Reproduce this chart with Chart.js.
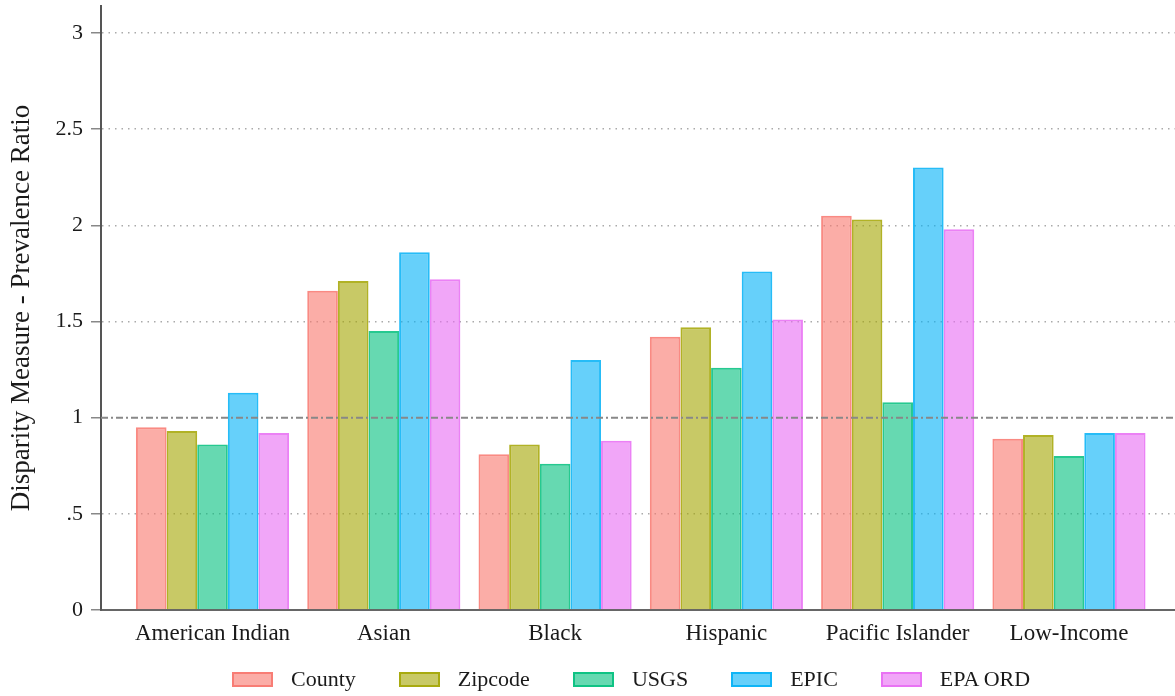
<!DOCTYPE html>
<html lang="en">
<head>
    <meta charset="UTF-8">
    <title>Disparity Measure - Prevalence Ratio</title>
    <script src="https://cdn.jsdelivr.net/npm/chart.js"></script>
    <style>
        body { margin: 0; background: #fff; overflow: hidden; font-family: "Liberation Serif", serif; }
        #wrap { position: relative; width: 1175px; height: 696px; }
        #legend { position: absolute; left: 232px; top: 666px; display: flex; align-items: center; color: #1a1a1a; font-size: 22px; }
        #legend .item { display: flex; align-items: center; margin-right: 43px; }
        #legend .box { width: 37px; height: 11px; border: 2px solid; margin-right: 18px; }
    </style>
</head>
<body>
<div id="wrap">
    <canvas id="chart" width="1175" height="696"></canvas>
    <div id="legend"></div>
</div>
<script>
    const groups = ["American Indian", "Asian", "Black", "Hispanic", "Pacific Islander", "Low-Income"];
    const seriesNames = ["County", "Zipcode", "USGS", "EPIC", "EPA ORD"];
    const county  = [0.95, 1.66, 0.81, 1.42, 2.05, 0.89];
    const zipcode = [0.93, 1.71, 0.86, 1.47, 2.03, 0.91];
    const usgs    = [0.86, 1.45, 0.76, 1.26, 1.08, 0.80];
    const epic    = [1.13, 1.86, 1.30, 1.76, 2.30, 0.92];
    const epaOrd  = [0.92, 1.72, 0.88, 1.51, 1.98, 0.92];
    const yTicks = [0, 0.5, 1, 1.5, 2, 2.5, 3];
    const yTickLabels = ["0", ".5", "1", "1.5", "2", "2.5", "3"];
    const refValue = 1;

    const rgb = ["248,118,109", "163,165,0", "0,191,125", "0,176,246", "231,107,243"];
    const seriesValues = [county, zipcode, usgs, epic, epaOrd];

    const datasets = seriesNames.map((name, k) => ({
        label: name,
        data: seriesValues[k].map((v, i) => ({ x: i, y: v })),
        backgroundColor: "rgba(" + rgb[k] + ",0.6)",
        borderColor: "rgba(" + rgb[k] + ",0.85)",
        borderWidth: 2,
        categoryPercentage: 0.894,
        barPercentage: 1
    }));

    // dash-dot line at 1, drawn over the bars
    const refLine = {
        id: "refLine",
        afterDatasetsDraw(chart) {
            const { ctx, chartArea, scales } = chart;
            const y = scales.y.getPixelForValue(refValue);
            ctx.save();
            ctx.strokeStyle = "#888";
            ctx.lineWidth = 2;
            ctx.setLineDash([7, 3, 2, 3]);
            ctx.beginPath();
            ctx.moveTo(chartArea.left, y);
            ctx.lineTo(chartArea.right, y);
            ctx.stroke();
            ctx.restore();
        }
    };

    new Chart(document.getElementById("chart"), {
        type: "bar",
        data: { datasets },
        plugins: [refLine],
        options: {
            responsive: false,
            animation: false,
            layout: { padding: { top: 6, right: 0, left: 0, bottom: 0 } },
            plugins: { legend: { display: false }, tooltip: { enabled: false } },
            scales: {
                x: {
                    type: "linear",
                    offset: false,
                    min: -0.651,
                    max: 5.619,
                    afterBuildTicks: s => { s.ticks = groups.map((g, i) => ({ value: i })); },
                    afterFit: s => { s.height = 86; },
                    grid: { display: false, drawTicks: false },
                    border: { display: true, color: "#666", width: 2 },
                    ticks: {
                        callback: v => groups[v],
                        color: "#1a1a1a",
                        font: { family: "Liberation Serif", size: 23 },
                        padding: 10,
                        maxRotation: 0,
                        autoSkip: false
                    }
                },
                y: {
                    min: 0,
                    max: 3.14,
                    afterBuildTicks: s => { s.ticks = yTicks.map(v => ({ value: v })); },
                    afterFit: s => { s.width = 101; s.paddingTop = 0; s.paddingBottom = 0; },
                    grid: {
                        color: c => (c.tick && (c.tick.value === 0 || c.tick.value === refValue)) ? "rgba(0,0,0,0)" : "#aaa",
                        lineWidth: 1.5,
                        tickColor: "#888",
                        tickBorderDash: [],
                        tickLength: 10
                    },
                    border: { display: true, color: "#555", width: 2, dash: [1.5, 5] },
                    ticks: {
                        callback: (v) => yTickLabels[yTicks.indexOf(v)],
                        color: "#1a1a1a",
                        font: { family: "Liberation Serif", size: 22 },
                        padding: 8
                    },
                    title: {
                        display: true,
                        text: "Disparity Measure - Prevalence Ratio",
                        color: "#1a1a1a",
                        font: { family: "Liberation Serif", size: 27 },
                        padding: { top: 6, bottom: 0 }
                    }
                }
            }
        }
    });

    const legend = document.getElementById("legend");
    seriesNames.forEach((name, k) => {
        const item = document.createElement("div");
        item.className = "item";
        const box = document.createElement("span");
        box.className = "box";
        box.style.background = "rgba(" + rgb[k] + ",0.6)";
        box.style.borderColor = "rgba(" + rgb[k] + ",0.85)";
        const txt = document.createElement("span");
        txt.textContent = name;
        item.appendChild(box);
        item.appendChild(txt);
        legend.appendChild(item);
    });
</script>
</body>
</html>
